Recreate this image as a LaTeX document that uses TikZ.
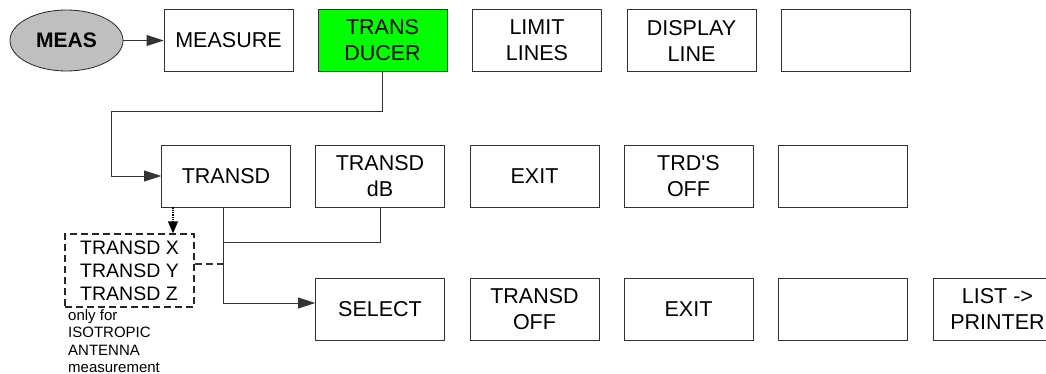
\documentclass[tikz,border=0pt]{standalone}
\usepackage{fontspec}
\setmainfont{Liberation Sans}
\usetikzlibrary{arrows.meta,shapes.geometric}

\tikzset{
  softkey/.style={draw=black!80,line width=0.8pt,minimum width=129pt,minimum height=62pt,inner sep=0pt,align=center,font=\fontsize{21.5}{26}\selectfont},
  hardkey/.style={ellipse,draw=black!85,line width=0.8pt,fill=black!25,minimum width=113pt,minimum height=61pt,inner sep=0pt,font=\bfseries\fontsize{21}{26}\selectfont},
  link/.style={draw=black!80,line width=0.8pt},
  linkarr/.style={link,-{Triangle[length=17pt,width=11pt]}},
}

\begin{document}
\begin{tikzpicture}[x=1pt,y=-1pt]
\useasboundingbox (0,0) rectangle (1046,374);
% first row
\node[hardkey] (meas) at (66.5,40.5) {MEAS};
\node[softkey] (measure) at (228.5,40.5) {MEASURE};
\node[softkey,fill={rgb,255:red,0;green,255;blue,0}] (transducer) at (382.5,40.5) {TRANS\\DUCER};
\node[softkey] (limit) at (537,40.5) {LIMIT\\LINES};
\node[softkey] (dline) at (691.5,40.5) {DISPLAY\\LINE};
\node[softkey] (topfree) at (845.5,40.5) {};
% second row
\node[softkey] (transd) at (226,176) {TRANSD};
\node[softkey] (transddb) at (380,176) {TRANSD\\dB};
\node[softkey] (exitA) at (534.5,176) {EXIT};
\node[softkey] (trdoff) at (688.5,176) {TRD\textquotesingle S\\OFF};
\node[softkey] (midfree) at (842.5,176) {};
% third row
\node[softkey] (select) at (380,309) {SELECT};
\node[softkey] (transdoff) at (534.5,309) {TRANSD\\OFF};
\node[softkey] (exitB) at (688.5,309) {EXIT};
\node[softkey] (lowfree) at (842.5,309) {};
\node[softkey] (listprn) at (997.5,309) {LIST ->\\PRINTER};
% isotropic antenna
\node[draw=black!85,line width=1.3pt,dash pattern=on 7pt off 4pt,minimum width=129pt,minimum height=73pt,inner sep=0pt,align=left,font=\fontsize{19.5}{23}\selectfont] (xyz) at (129.5,270.5) {TRANSD X\\TRANSD Y\\TRANSD Z};
\node[anchor=north west,inner sep=0pt,align=left,font=\fontsize{15}{17.5}\selectfont] (note) at (68,309) {only for\\ISOTROPIC\\ANTENNA\\measurement};
\coordinate (jdb) at (223,242);
\coordinate (jxyz) at (223,264);

\draw[linkarr] (meas) -- (measure);
\draw[linkarr] (transducer.south) |- (111,111) |- (transd.west);
\draw[linkarr] ([xshift=-3pt]transd.south) |- ([yshift=6pt]select.west);
\draw[link] (transddb.south) |- (jdb);
\draw[link,line width=1.3pt,dash pattern=on 7pt off 4pt] (xyz.east |- jxyz) -- (jxyz);
\draw[line width=1.3pt,densely dotted,-{Triangle[length=12pt,width=10pt]}] ([xshift=-53pt]transd.south) -- ([xshift=-53pt]transd.south |- xyz.north);
\end{tikzpicture}
\end{document}
